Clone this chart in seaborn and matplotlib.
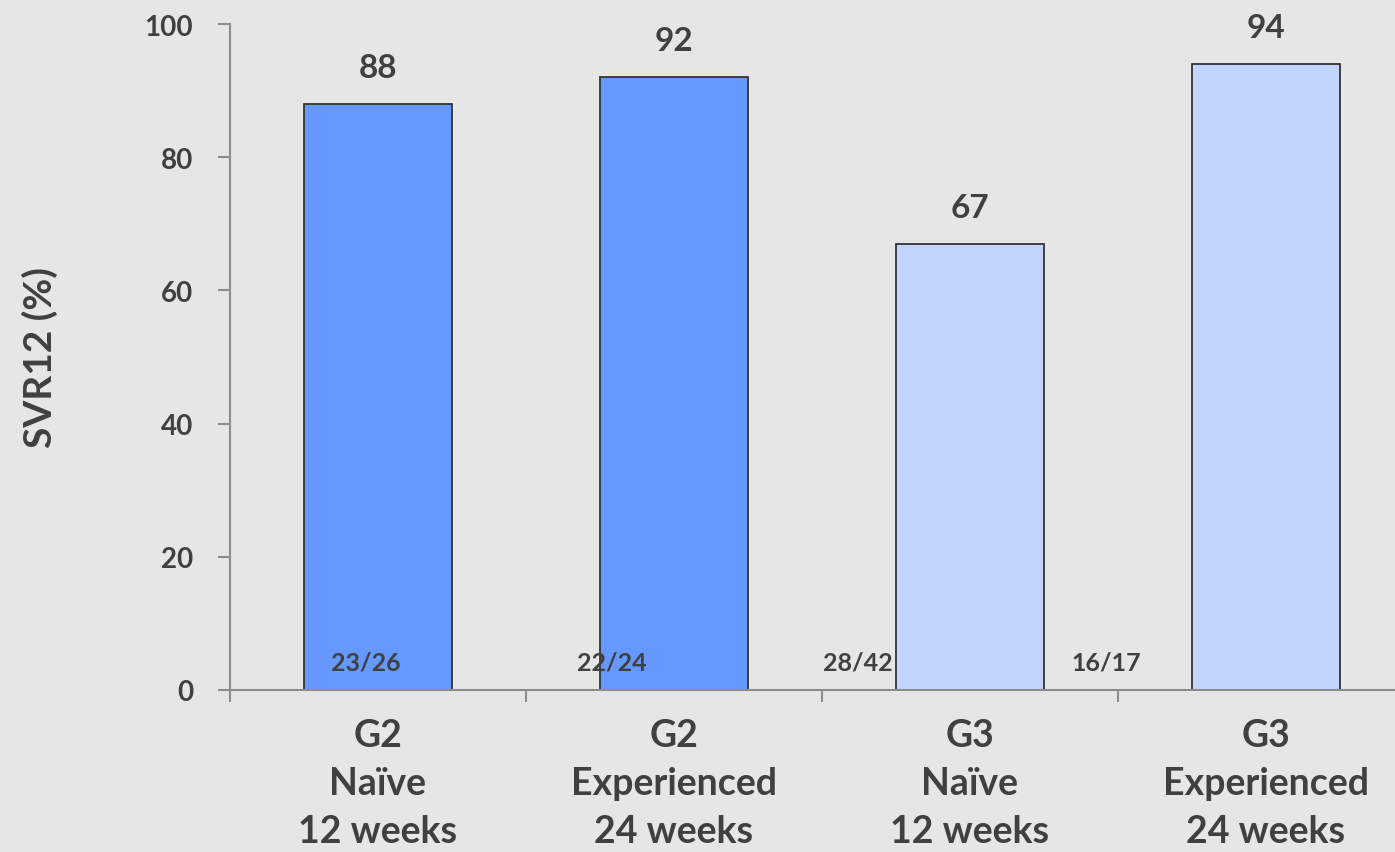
import matplotlib
matplotlib.use("Agg")
import matplotlib.pyplot as plt
import seaborn as sns
import pandas as pd

# SVR12 response by genotype / treatment group
categories = ["G2\nNaïve\n12 weeks", "G2\nExperienced\n24 weeks",
              "G3\nNaïve\n12 weeks", "G3\nExperienced\n24 weeks"]
svr12 = [88, 92, 67, 94]
fractions = ["23/26", "22/24", "28/42", "16/17"]
fraction_x = [-0.04, 0.79, 1.62, 2.46]
bar_colors = ["#6699ff", "#6699ff", "#c2d4ff", "#c2d4ff"]

text_color = "#404040"
axis_color = "#8c8c8c"
bg = "#e6e6e6"

sns.set_theme(style="white")
plt.rcParams["font.family"] = ["Lato", "DejaVu Sans"]

df = pd.DataFrame({"group": categories, "svr": svr12})

fig = plt.figure(figsize=(13.95, 8.53), dpi=100, facecolor=bg)
ax = fig.add_axes([230 / 1395, 162 / 853, 1184 / 1395, 666 / 853])
ax.set_facecolor(bg)

sns.barplot(data=df, x="group", y="svr", hue="group", palette=bar_colors,
            legend=False, width=0.5, edgecolor="#333333", linewidth=1.3, ax=ax,
            saturation=1)

ax.set_xlim(-0.5, 3.5)
ax.set_ylim(0, 100)

for spine in ["top", "right"]:
    ax.spines[spine].set_visible(False)
for spine in ["left", "bottom"]:
    ax.spines[spine].set_color(axis_color)
    ax.spines[spine].set_linewidth(1.5)

ax.set_yticks([0, 20, 40, 60, 80, 100])
ax.tick_params(axis="y", direction="out", length=8.5, width=1.5, color=axis_color,
               labelsize=20, labelcolor=text_color, pad=18, left=True)
for lbl in ax.get_yticklabels():
    lbl.set_fontweight("bold")

# category boundaries carry the tick marks; labels sit at the centers
ax.set_xticks([-0.5, 0.5, 1.5, 2.5, 3.5], minor=True)
ax.tick_params(axis="x", which="minor", direction="out", length=8.5, width=1.5,
               color=axis_color, bottom=True)
ax.tick_params(axis="x", which="major", length=0, pad=20, labelsize=27,
               labelcolor=text_color)
for lbl in ax.get_xticklabels():
    lbl.set_fontweight("bold")
    lbl.set_linespacing(1.5)

ax.set_xlabel("")
ax.set_ylabel("SVR12 (%)", fontsize=28, fontweight="bold", color=text_color,
              labelpad=62)

for i, v in enumerate(svr12):
    ax.text(i, v + 3.3, f"{v}", ha="center", va="bottom", fontsize=24,
            fontweight="bold", color=text_color)

for xf, frac in zip(fraction_x, fractions):
    ax.text(xf, 4.2, frac, ha="center", va="center", fontsize=18,
            fontweight="bold", color=text_color)

fig.savefig("out.png", dpi=100, facecolor=bg)
